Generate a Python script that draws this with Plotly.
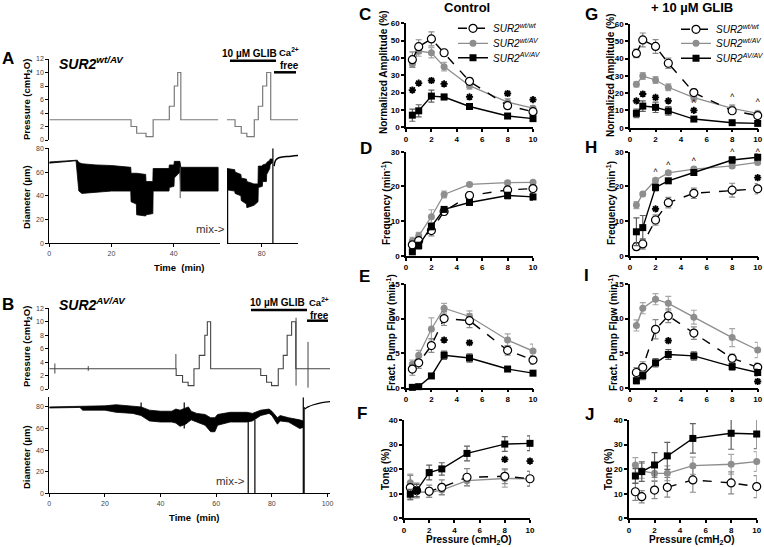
import plotly.graph_objects as go

W, H = 764, 547
FONT = "Liberation Sans"

# ---------------- Panel A : SUR2 wt/AV recording (time in min, axis broken) ----------------
A_PRESS_T = [0, 26.3, 28.1, 31.1, 33.4, 38.6, 40.2, 41.3, 42.3, 54.3]
A_PRESS_V = [3, 2, 1, 0.5, 3, 5, 8, 10, 3, 3]
A_PRESS2_T = [68.8, 71.4, 73.4, 75.2, 77.6, 78.9, 80.3, 81.6, 82.9, 91.7]
A_PRESS2_V = [3, 2, 1, 0.5, 3, 5, 8, 10, 3, 3]

A_DIAM_T = [0, 8.6, 9.0, 9.5, 10.5, 15, 20, 26.2, 26.3, 28.0, 28.1, 31.0, 31.1, 33.3,
            33.4, 38.5, 38.6, 40.1, 40.2, 42.0, 42.3, 54.3]
A_DIAM_HI = [68.5, 70.5, 70, 68, 67, 66, 65.5, 64, 59, 59, 59, 58, 52, 52,
             63, 63, 66, 66, 69, 69, 64, 64]
A_DIAM_LO = [67.5, 69.5, 60, 44, 42, 43, 44, 44, 35, 33, 24, 23, 24, 25,
             44, 44, 47, 48, 55, 60, 44, 44]
A_DIAM2_T = [68.8, 71.3, 71.4, 73.3, 73.4, 75.1, 75.2, 77.5, 78.8, 78.9, 80.2, 80.3,
             81.5, 81.6, 82.6, 82.7, 83.4]
A_DIAM2_HI = [63, 62, 60, 58, 55, 54, 52, 50, 50, 65, 65, 66, 67, 68, 70, 71, 71]
A_DIAM2_LO = [45, 44, 42, 40, 36, 33, 30, 32, 35, 47, 48, 52, 52, 58, 63, 66, 68]
A_RELAX_T = [84.0, 84.5, 85.5, 88, 91.7]
A_RELAX_D = [65, 70, 72, 73, 74]
A_SPIKE1_T, A_SPIKE1_LO, A_SPIKE1_HI = [42.1], [38], [64]
A_SPIKE2_T, A_SPIKE2_LO, A_SPIKE2_HI = [69.0, 83.6], [0, 0], [62, 80]
A_TIME_TICKS1 = [0, 20, 40]
A_TIME_TICKS2 = [80]

# ---------------- Panel B : SUR2 AV/AV recording ----------------
B_PRESS_T = [0, 45.6, 47.9, 49.9, 52.0, 53.9, 55.9, 56.8, 58.0, 76.0, 78.1, 79.9,
             82.3, 84.1, 85.5, 87.1, 88.6, 101]
B_PRESS_V = [3, 2, 1, 0.5, 3, 5, 8, 10, 3, 2, 1, 0.5, 3, 5, 8, 10, 3, 3]
B_PSPIKE_T = [2, 14, 45.5, 88.7, 93.0]
B_PSPIKE_LO = [2.3, 2.7, 3, 0.5, 0.2]
B_PSPIKE_HI = [3.8, 3.4, 5.2, 10.6, 7]

B_DIAM_T = [0, 11, 12, 20, 24, 30, 33, 36, 40, 44, 45.5, 47, 49, 50, 51, 53, 56, 58,
            59.5, 60.5, 65, 71, 73, 76, 79, 80, 82, 83, 86, 88.5, 90, 91.3]
B_DIAM_HI = [80, 80.5, 81, 81, 82, 81, 80, 77, 76, 76, 78, 77, 79, 80, 76, 74, 73, 70,
             70, 73, 75, 75, 74, 77, 78, 76, 70, 72, 70, 69, 68, 67]
B_DIAM_LO = [79, 79.5, 77, 77, 75, 74, 72, 67, 66, 66, 65, 62, 64, 66, 68, 66, 63, 57,
             57, 63, 66, 66, 67, 72, 74, 72, 64, 67, 66, 62, 60, 61]
B_RELAX_T = [91.8, 93, 95, 98, 101]
B_RELAX_D = [78, 80, 82, 84, 85]
B_DSPIKE_T = [33, 48.5, 71.5, 73.9, 91.3, 91.6]
B_DSPIKE_LO = [74, 60, 0, 0, 0, 0]
B_DSPIKE_HI = [84, 84, 68, 68, 89, 80]
B_TIME_TICKS = [0, 20, 40, 60, 80, 100]

# ---------------- Panels C-J : summary data ----------------
P_CMH2O = [0.5, 1, 2, 3, 5, 8, 10]
GROUPS = ["SUR2<sup>wt/wt</sup>", "SUR2<sup>wt/AV</sup>", "SUR2<sup>AV/AV</sup>"]

C_WTWT = [39, 46.5, 51, 43, 26.5, 12.5, 9]
C_WTWT_SEM = [4.5, 4, 4, 2, 2, 1.5, 1.5]
C_WTAV = [36.5, 44, 43, 35, 24, 14.5, 11]
C_WTAV_SEM = [2, 3, 3, 2.5, 2, 2, 1.5]
C_AVAV = [7, 9.5, 18, 17.5, 12, 6.5, 5]
C_AVAV_SEM = [3.5, 3.5, 3.5, 1.5, 1, 1, 1]
C_STAR_X = [0.5, 1, 2, 3, 5, 8, 10]
C_STAR_Y = [21.5, 25.5, 27, 25, 17.5, 19.5, 16]

D_WTWT = [3.2, 4.4, 7.3, 12.8, 17.4, 19, 19.4]
D_WTWT_SEM = [1, 1, 1.5, 1, 1, 1, 1]
D_WTAV = [4.4, 5.8, 11.3, 17.7, 20.6, 21.1, 21.2]
D_WTAV_SEM = [1, 1, 2, 1, 0.5, 0.5, 0.5]
D_AVAV = [1.2, 3, 8.5, 13.4, 15.4, 17.4, 17]
D_AVAV_SEM = [0.5, 1, 1, 0.5, 0.5, 1, 1]

E_WTWT = [2.7, 3.6, 6.1, 10, 9.7, 5.4, 4]
E_WTWT_SEM = [0.9, 0.8, 1, 1, 1, 0.7, 0.6]
E_WTAV = [3.4, 4.7, 8.5, 11.5, 10.3, 6.9, 5.3]
E_WTAV_SEM = [0.6, 0.7, 1.6, 0.7, 0.8, 0.9, 1]
E_AVAV = [0.05, 0.15, 1.7, 4.7, 4.3, 2.7, 2.1]
E_AVAV_SEM = [0.1, 0.2, 0.3, 0.6, 0.6, 0.2, 0.3]
E_STAR_X = [3, 5]
E_STAR_Y = [6.9, 6.5]

F_WTWT = [12.5, 11.3, 11, 12.6, 16.7, 17.1, 16.1]
F_WTWT_SEM = [5, 3, 2.5, 3, 3.5, 3, 3]
F_WTAV = [14.5, 10.8, 10.5, 11.5, 15.3, 16.2, 16.1]
F_WTAV_SEM = [3.5, 2, 2, 2, 2, 3.5, 3]
F_AVAV = [9.8, 11.3, 18.6, 20.1, 26.4, 30.2, 30.5]
F_AVAV_SEM = [2, 2.5, 3, 2.5, 3, 3, 3]
F_STAR_X = [8, 10]
F_STAR_Y = [24, 23.3]

G_WTWT = [43, 50.8, 47, 37.3, 20.3, 9.8, 7]
G_WTWT_SEM = [2.5, 4, 4, 3, 2, 1.5, 1]
G_WTAV = [25.1, 29.9, 27.6, 23.4, 17.4, 11.2, 8.3]
G_WTAV_SEM = [1.5, 2, 2, 2, 2, 2, 1.5]
G_AVAV = [8.3, 12.5, 11.8, 9.7, 5, 2.9, 2.5]
G_AVAV_SEM = [2.5, 3, 3, 2.5, 1, 0.5, 0.5]
G_STAR_X = [0.5, 1, 2, 3, 5]
G_STAR_Y = [15.5, 19.5, 17.5, 15.5, 10]
G_CARET_X = [5, 8, 10]
G_CARET_Y = [13.5, 17.5, 14.5]

H_WTWT = [2.6, 3.4, 10.3, 15.3, 18, 18.9, 19.3]
H_WTWT_SEM = [1, 1.5, 1.5, 1.5, 1.5, 2, 1.5]
H_WTAV = [14.6, 17.8, 21.8, 23.9, 25, 25.9, 26.9]
H_WTAV_SEM = [1, 0.5, 0.5, 0.5, 0.5, 0.5, 0.5]
H_AVAV = [6.9, 8.1, 19.7, 21.6, 24, 27.6, 28.4]
H_AVAV_SEM = [4, 3.5, 1, 0.5, 0.5, 1, 1]
H_STAR_X = [2, 10]
H_STAR_Y = [13.5, 22.5]
H_CARET_X = [2, 3, 5, 8, 10]
H_CARET_Y = [24, 26, 27, 29.6, 29.6]

I_WTWT = [2.2, 2.95, 8.45, 10.4, 7.9, 4.25, 2.95]
I_WTWT_SEM = [0.7, 0.8, 1.4, 1, 0.9, 0.6, 0.6]
I_WTAV = [9, 11.5, 12.8, 12.2, 10.2, 7.25, 5.45]
I_WTAV_SEM = [0.8, 0.8, 0.8, 1, 1, 1.3, 1.1]
I_AVAV = [1, 1.75, 3.6, 4.8, 4.6, 3.05, 2.2]
I_AVAV_SEM = [0.4, 0.6, 0.6, 0.7, 0.6, 0.5, 0.5]
I_STAR_X = [3, 10]
I_STAR_Y = [6.8, 0.9]

J_WTWT = [10.8, 8.8, 11.5, 12.6, 15.6, 14.4, 12.9]
J_WTWT_SEM = [3.5, 2.5, 3.5, 4, 5, 4.5, 4.5]
J_WTAV = [21.7, 19.3, 18.3, 18.3, 21.4, 22, 23.1]
J_WTAV_SEM = [3, 3, 3, 3, 3.5, 4, 4]
J_AVAV = [17.2, 19, 21.7, 25.4, 32.5, 34.6, 34.3]
J_AVAV_SEM = [3, 4, 5, 5.5, 6, 6.5, 6]

# --------------------------------------------------------------------------
def xd(a, b):
    return [a / W, b / W]


def yd(top, bottom):
    return [1 - bottom / H, 1 - top / H]


def vlines(ts, lo, hi):
    xs, ys = [], []
    for t, a, b in zip(ts, lo, hi):
        xs += [t, t, None]
        ys += [a, b, None]
    return xs, ys


fig = go.Figure()
layout = dict(width=W, height=H, margin=dict(l=0, r=0, t=0, b=0, autoexpand=False),
              paper_bgcolor="white", plot_bgcolor="white", showlegend=True,
              font=dict(family=FONT, color="black"))

LEFT_TICK = dict(family=FONT, size=7, color="#444")


def left_axes(n, xdom, ydom, xrange, yrange, ytick, xtickvals=None, showx=True, showy=True):
    layout[f"xaxis{n}"] = dict(domain=xdom, range=xrange, anchor=f"y{n}", showgrid=False,
                               zeroline=False, visible=showx, showline=True, linecolor="black",
                               linewidth=1, ticks="outside", ticklen=3, tickcolor="black",
                               tickvals=xtickvals, tickfont=LEFT_TICK)
    layout[f"yaxis{n}"] = dict(domain=ydom, range=yrange, anchor=f"x{n}", showgrid=False,
                               zeroline=False, visible=showy, showline=True, linecolor="black",
                               linewidth=1, ticks="outside", ticklen=3, tickcolor="black",
                               tickvals=ytick, tickfont=LEFT_TICK)


PT = [0, 2, 4, 6, 8, 10, 12]
DT = [0, 20, 40, 60, 80]
A1_X, A2_X = xd(49.3, 220), xd(227, 298)
A1_R, A2_R = [0, 54.9], [68.8, 91.7]
AP_Y, AD_Y = yd(59, 140), yd(148.3, 243.3)
left_axes(1, A1_X, AP_Y, A1_R, [0, 12], PT, showx=False)
left_axes(2, A1_X, AD_Y, A1_R, [0, 80], DT, A_TIME_TICKS1)
left_axes(13, A2_X, AP_Y, A2_R, [0, 12], PT, showx=False, showy=False)
left_axes(14, A2_X, AD_Y, A2_R, [0, 80], DT, A_TIME_TICKS2, showy=False)
B_XR = [0, 100.9]
left_axes(3, xd(49.3, 330), yd(308.3, 389), B_XR, [0, 12], PT, showx=False)
left_axes(4, xd(49.3, 330), yd(397.3, 493.3), B_XR, [0, 88.9], DT, B_TIME_TICKS)


def line(x, y, xa, ya, color="black", width=1.2, shape="linear"):
    fig.add_trace(go.Scatter(x=x, y=y, mode="lines", line_shape=shape,
                             line=dict(color=color, width=width), xaxis=xa, yaxis=ya,
                             showlegend=False, hoverinfo="skip"))


def band(ts, hi, lo, xa, ya):
    xs = list(ts)
    fig.add_trace(go.Scatter(x=xs + xs[::-1], y=list(hi) + list(lo)[::-1], mode="lines",
                             fill="toself", fillcolor="black", line=dict(color="black", width=0.8),
                             xaxis=xa, yaxis=ya, showlegend=False, hoverinfo="skip"))


# Pressure traces
line(A_PRESS_T, A_PRESS_V, "x", "y", "#7a7a7a", 1.2, "hv")
line(A_PRESS2_T, A_PRESS2_V, "x13", "y13", "#7a7a7a", 1.2, "hv")
line(B_PRESS_T, B_PRESS_V, "x3", "y3", "#444", 1.1, "hv")
line(*vlines(B_PSPIKE_T, B_PSPIKE_LO, B_PSPIKE_HI), "x3", "y3", "#444", 1.0)

# Diameter traces
band(A_DIAM_T, A_DIAM_HI, A_DIAM_LO, "x2", "y2")
band(A_DIAM2_T, A_DIAM2_HI, A_DIAM2_LO, "x14", "y14")
line(A_RELAX_T, A_RELAX_D, "x14", "y14", "black", 1.5, "spline")
line(*vlines(A_SPIKE1_T, A_SPIKE1_LO, A_SPIKE1_HI), "x2", "y2", "#555", 1.0)
line(*vlines(A_SPIKE2_T, A_SPIKE2_LO, A_SPIKE2_HI), "x14", "y14", "black", 1.2)

band(B_DIAM_T, B_DIAM_HI, B_DIAM_LO, "x4", "y4")
line(B_RELAX_T, B_RELAX_D, "x4", "y4", "black", 1.3, "spline")
line(*vlines(B_DSPIKE_T, B_DSPIKE_LO, B_DSPIKE_HI), "x4", "y4", "black", 1.2)

# ---------------- summary panels ----------------
RT = dict(family=FONT, size=8, color="black", weight="bold")
PANELS = [
    (5, (406, 533), (23.3, 127.3), 60, 10, (C_WTWT, C_WTWT_SEM, C_WTAV, C_WTAV_SEM, C_AVAV, C_AVAV_SEM),
     (C_STAR_X, C_STAR_Y), None, ("legend", "legend2", "legend3")),
    (6, (406, 533), (151.7, 256), 30, 10, (D_WTWT, D_WTWT_SEM, D_WTAV, D_WTAV_SEM, D_AVAV, D_AVAV_SEM),
     None, None, None),
    (7, (406, 533), (284, 387.7), 15, 5, (E_WTWT, E_WTWT_SEM, E_WTAV, E_WTAV_SEM, E_AVAV, E_AVAV_SEM),
     (E_STAR_X, E_STAR_Y), None, None),
    (8, (404, 530), (420, 518.3), 40, 10, (F_WTWT, F_WTWT_SEM, F_WTAV, F_WTAV_SEM, F_AVAV, F_AVAV_SEM),
     (F_STAR_X, F_STAR_Y), None, None),
    (9, (630, 757.7), (24, 127.7), 60, 10, (G_WTWT, G_WTWT_SEM, G_WTAV, G_WTAV_SEM, G_AVAV, G_AVAV_SEM),
     (G_STAR_X, G_STAR_Y), (G_CARET_X, G_CARET_Y), ("legend4", "legend5", "legend6")),
    (10, (630, 757.7), (151.7, 255.7), 30, 10, (H_WTWT, H_WTWT_SEM, H_WTAV, H_WTAV_SEM, H_AVAV, H_AVAV_SEM),
     (H_STAR_X, H_STAR_Y), (H_CARET_X, H_CARET_Y), None),
    (11, (630, 757.7), (284, 387.7), 15, 5, (I_WTWT, I_WTWT_SEM, I_WTAV, I_WTAV_SEM, I_AVAV, I_AVAV_SEM),
     (I_STAR_X, I_STAR_Y), None, None),
    (12, (629, 756.7), (420, 518.3), 40, 10, (J_WTWT, J_WTWT_SEM, J_WTAV, J_WTAV_SEM, J_AVAV, J_AVAV_SEM),
     None, None, None),
]

for n, xdm, ydm, ymax, ystep, data, stars, carets, legs in PANELS:
    layout[f"xaxis{n}"] = dict(domain=xd(*xdm), range=[0, 10], anchor=f"y{n}", showgrid=False,
                               zeroline=False, showline=True, linecolor="black", linewidth=1.5,
                               ticks="outside", ticklen=3, tickwidth=1.5, tickcolor="black",
                               tickvals=[0, 2, 4, 6, 8, 10], tickfont=RT)
    layout[f"yaxis{n}"] = dict(domain=yd(*ydm), range=[0, ymax], anchor=f"x{n}", showgrid=False,
                               zeroline=False, showline=True, linecolor="black", linewidth=1.5,
                               ticks="outside", ticklen=3, tickwidth=1.5, tickcolor="black",
                               tickvals=list(range(0, ymax + 1, ystep)), tickfont=RT)
    wt, wts, wa, was, av, avs = data
    styles = [
        (wa, was, 1, dict(color="#8e8e8e", size=7, symbol="circle"),
         dict(color="#8e8e8e", width=1.3), "#a8a8a8"),
        (wt, wts, 0, dict(color="white", size=8, symbol="circle", line=dict(color="black", width=1.2)),
         dict(color="black", width=1.4, dash="dash"), "#8a8a8a"),
        (av, avs, 2, dict(color="black", size=7, symbol="square"),
         dict(color="black", width=1.4), "#606060"),
    ]
    for ys, es, gi, mk, ln, ec in styles:
        fig.add_trace(go.Scatter(x=P_CMH2O, y=ys, name=GROUPS[gi], mode="lines+markers", marker=mk, line=ln,
                                 error_y=dict(type="data", array=es, color=ec, thickness=1.2, width=3),
                                 cliponaxis=False, xaxis=f"x{n}", yaxis=f"y{n}",
                                 showlegend=legs is not None, legend=legs[gi] if legs else "legend"))
    if stars:
        fig.add_trace(go.Scatter(x=stars[0], y=stars[1], mode="markers", cliponaxis=False,
                                 marker=dict(symbol="asterisk-open", size=6, color="black",
                                             line=dict(color="black", width=1.8)),
                                 xaxis=f"x{n}", yaxis=f"y{n}", showlegend=False))
    if carets:
        fig.add_trace(go.Scatter(x=carets[0], y=carets[1], mode="text", text=["^"] * len(carets[0]),
                                 textfont=dict(family=FONT, size=8.5, color="black"), cliponaxis=False,
                                 xaxis=f"x{n}", yaxis=f"y{n}", showlegend=False))

LEG = dict(font=dict(family=FONT, size=10, style="italic", color="black"), bgcolor="rgba(0,0,0,0)",
           yanchor="middle", xanchor="left", itemwidth=30, borderwidth=0)
for i, (lx, ly) in enumerate([(453, 28.3), (453, 43.3), (453, 57.7), (676, 29.3), (676, 43.3), (676, 58.3)]):
    key = "legend" if i == 0 else f"legend{i + 1}"
    layout[key] = dict(LEG, x=lx / W, y=1 - ly / H)

# ---------------- annotations ----------------
ann = []


def txt(x, y, s, size, bold=True, italic=False, angle=0, color="black", xanchor="center"):
    ann.append(dict(x=x / W, y=1 - y / H, xref="paper", yref="paper", text=s, showarrow=False,
                    textangle=angle, xanchor=xanchor, yanchor="middle",
                    font=dict(family=FONT, size=size, color=color,
                              weight="bold" if bold else "normal", style="italic" if italic else "normal")))


for lab, x, y in [("A", 8, 59), ("B", 8, 304), ("C", 365, 15), ("D", 366, 148), ("E", 364, 276),
                  ("F", 362, 413), ("G", 591, 15), ("H", 591, 147), ("I", 586, 275), ("J", 589, 414)]:
    txt(x, y, lab, 17)

txt(467, 7, "Control", 13)
txt(692, 7, "+ 10 µM GLIB", 13)
txt(57, 63, "SUR2<sup>wt/AV</sup>", 14, italic=True, xanchor="left")
txt(57, 304, "SUR2<sup>AV/AV</sup>", 14, italic=True, xanchor="left")

# left axis titles
txt(27, 100, "Pressure (cmH<sub>2</sub>O)", 9.5, angle=-90)
txt(27, 197, "Diameter (µm)", 9.5, angle=-90)
txt(179, 268, "Time  (min)", 9.5)
txt(27, 347, "Pressure (cmH<sub>2</sub>O)", 9.5, angle=-90)
txt(27, 457, "Diameter (µm)", 9.5, angle=-90)
txt(194, 517, "Time  (min)", 9.5)
txt(210, 229, "mix->", 11.5, bold=False, color="#333")
txt(230, 481, "mix->", 11.5, bold=False, color="#333")

# drug annotations
txt(249, 54, "10 µM GLIB", 10)
txt(289, 52, "Ca<sup>2+</sup>", 9.5)
txt(289, 66, "free", 10)
txt(277, 302, "10 µM GLIB", 10)
txt(319, 302, "Ca<sup>2+</sup>", 9.5)
txt(319, 315, "free", 10)

# right axis titles
for x, y, s in [(383, 72, "Normalized Amplitude (%)"), (386, 203, "Frequency (min<sup>-1</sup>)"),
                (391, 333, "Fract. Pump Flow (min<sup>-1</sup>)"), (385, 470, "Tone (%)"),
                (610, 75, "Normalized Amplitude (%)"), (611, 203, "Frequency (min<sup>-1</sup>)"),
                (613, 333, "Fract. Pump Flow (min<sup>-1</sup>)"), (608, 470, "Tone (%)")]:
    txt(x, y, s, 10, angle=-90)
txt(469, 539.5, "Pressure (cmH<sub>2</sub>O)", 10)
txt(692, 539.5, "Pressure (cmH<sub>2</sub>O)", 10)

layout["annotations"] = ann

# treatment bars
shapes = []
for x0, x1, y in [(230, 276, 60.7), (274, 296, 72.3), (251, 307, 310), (307, 328, 320.7)]:
    shapes.append(dict(type="line", xref="paper", yref="paper", x0=x0 / W, x1=x1 / W,
                       y0=1 - y / H, y1=1 - y / H, line=dict(color="black", width=2.5)))
layout["shapes"] = shapes

fig.update_layout(**layout)
fig.write_html("out.html", config={"displayModeBar": False},
               post_script="document.body.style.margin='0px';")
